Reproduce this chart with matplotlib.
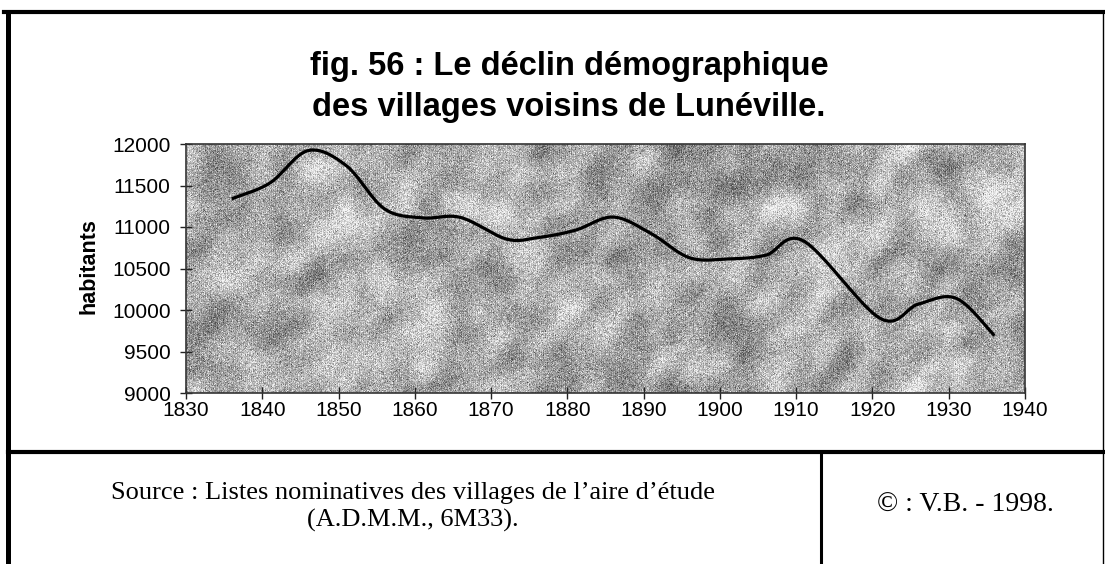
import numpy as np
import matplotlib
matplotlib.use("Agg")
import matplotlib.pyplot as plt
from matplotlib.lines import Line2D

# recensements : années et population totale des villages
years = [1836, 1841, 1846, 1851, 1856, 1861, 1866, 1872, 1876, 1881,
         1886, 1891, 1896, 1901, 1906, 1911, 1921, 1926, 1931, 1936]
habitants = [11340, 11530, 11920, 11740, 11220, 11110, 11115, 10855, 10870, 10960,
             11120, 10920, 10630, 10615, 10660, 10830, 9900, 10070, 10140, 9690]

x_ticks = list(range(1830, 1941, 10))
y_ticks = list(range(9000, 12001, 500))

title_1 = "fig. 56 : Le déclin démographique"
title_2 = "des villages voisins de Lunéville."
source_1 = "Source : Listes nominatives des villages de l\u2019aire d\u2019étude"
source_2 = "(A.D.M.M., 6M33)."
credit = "© : V.B. - 1998."

W, H = 1105, 564
plt.rcParams['font.family'] = ['Liberation Sans', 'DejaVu Sans']
SERIF = ['Liberation Serif', 'DejaVu Serif']


def fx(x):
    return x / W


def fy(y):
    return 1 - y / H


def smooth_line(xs, ys, xlim, ylim, w, h, n=40):
    # bezier lissé façon tableur, calculé en coordonnées écran
    px = (np.asarray(xs, float) - xlim[0]) / (xlim[1] - xlim[0]) * w
    py = (np.asarray(ys, float) - ylim[0]) / (ylim[1] - ylim[0]) * h
    pts = np.column_stack([px, py])
    out = []
    t = np.linspace(0, 1, n)[:, None]
    for i in range(len(pts) - 1):
        p0 = pts[i - 1] if i > 0 else pts[i]
        p1, p2 = pts[i], pts[i + 1]
        p3 = pts[i + 2] if i + 2 < len(pts) else pts[i + 1]
        c1 = p1 + (p2 - p0) / 6
        c2 = p2 - (p3 - p1) / 6
        seg = ((1 - t) ** 3) * p1 + 3 * ((1 - t) ** 2) * t * c1 + 3 * (1 - t) * t ** 2 * c2 + t ** 3 * p2
        out.append(seg if i == 0 else seg[1:])
    out = np.vstack(out)
    sx = out[:, 0] / w * (xlim[1] - xlim[0]) + xlim[0]
    sy = out[:, 1] / h * (ylim[1] - ylim[0]) + ylim[0]
    return sx, sy


def granite(h, w, seed=56):
    # fond gris marbré
    rng = np.random.default_rng(seed)
    noise = rng.standard_normal((h, w))
    ky = np.fft.fftfreq(h)[:, None]
    kx = np.fft.fftfreq(w)[None, :]
    u = (kx + ky) / np.sqrt(2)
    v = (kx - ky) / np.sqrt(2)
    filt = np.exp(-2 * np.pi ** 2 * ((u * 8) ** 2 + (v * 11) ** 2))
    blobs = np.fft.ifft2(np.fft.fft2(noise) * filt).real
    blobs /= blobs.std()
    grain = rng.standard_normal((h, w))
    screen = np.where(np.arange(w) % 2 == 0, 7, -7)[None, :]
    img = 172 + 18 * blobs + 28 * grain + screen
    return np.clip(img, 70, 245)


fig = plt.figure(figsize=(W / 100, H / 100), dpi=100)
ax = fig.add_axes([fx(186), fy(393), (1025 - 186) / W, (393 - 144) / H])

xlim = (1830, 1940)
ylim = (9000, 12000)
ax.set_xlim(*xlim)
ax.set_ylim(*ylim)

tex = granite(249, 839)
ax.imshow(tex, cmap='gray', vmin=0, vmax=255, extent=[xlim[0], xlim[1], ylim[0], ylim[1]],
          aspect='auto', interpolation='nearest', zorder=0)

sx, sy = smooth_line(years, habitants, xlim, ylim, 839, 249)
ax.plot(sx, sy, color='black', lw=2.3, solid_capstyle='butt', zorder=3)

ax.set_xticks(x_ticks)
ax.set_yticks(y_ticks)
ax.tick_params(axis='both', direction='inout', length=8, width=1, labelsize=15, color='#222222')
ax.tick_params(axis='x', pad=2)
ax.tick_params(axis='y', pad=7)
for s in ax.spines.values():
    s.set_color('#333333')
    s.set_linewidth(1.2)

fig.text(fx(89), fy(266), "habitants", rotation=90, ha='center', va='center',
         fontsize=15.5, fontweight='bold')

fig.text(fx(569), fy(75.5), title_1, ha='center', va='baseline', fontsize=23.5, fontweight='bold')
fig.text(fx(569), fy(116), title_2, ha='center', va='baseline', fontsize=23.5, fontweight='bold')

fig.text(fx(413), fy(499), source_1, ha='center', va='baseline', fontsize=19, family=SERIF)
fig.text(fx(413), fy(527), source_2, ha='center', va='baseline', fontsize=19, family=SERIF)
fig.text(fx(965), fy(512), credit, ha='center', va='baseline', fontsize=20, family=SERIF)

# cadre du document
frame = [
    ((4, 1105), (12, 12), 3.0),
    ((8, 8), (12, 564), 3.6),
    ((1103, 1103), (12, 564), 1.0),
    ((8, 1105), (452, 452), 3.0),
    ((821, 821), (452, 564), 2.2),
]
for xs, ys, lw in frame:
    fig.add_artist(Line2D([fx(x) for x in xs], [fy(y) for y in ys],
                          color='black', lw=lw, transform=fig.transFigure))

fig.savefig("out.png", dpi=100)
